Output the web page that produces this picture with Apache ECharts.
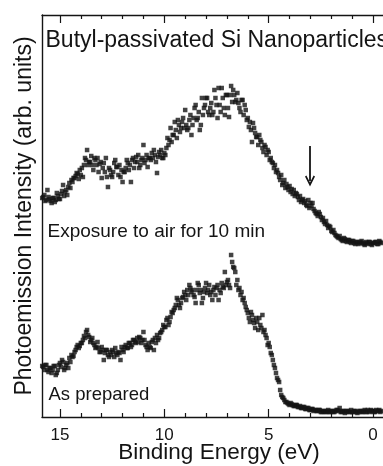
<!DOCTYPE html>
<html><head><meta charset="utf-8">
<script src="https://cdn.jsdelivr.net/npm/echarts@6/dist/echarts.min.js"></script>
<style>html,body{margin:0;padding:0;background:#fff}#c{width:383px;height:466px}</style>
</head><body><div id="c"></div>
<script>
// Binding energy (eV) of each sample point, sweep A
const energyA = [15.8,15.7,15.6,15.5,15.4,15.3,15.2,15.1,15.0,14.9,14.8,14.7,14.6,14.5,14.4,14.3,14.2,14.1,14.0,13.9,
13.8,13.7,13.6,13.5,13.4,13.3,13.2,13.1,13.0,12.9,12.8,12.7,12.6,12.5,12.4,12.3,12.2,12.1,12.0,11.9,
11.8,11.7,11.6,11.5,11.4,11.3,11.2,11.1,11.0,10.9,10.8,10.7,10.6,10.5,10.4,10.3,10.2,10.1,10.0,9.9,
9.8,9.7,9.6,9.5,9.4,9.3,9.2,9.1,9.0,8.9,8.8,8.7,8.6,8.5,8.4,8.3,8.2,8.1,8.0,7.9,
7.8,7.7,7.6,7.5,7.4,7.3,7.2,7.1,7.0,6.9,6.8,6.7,6.6,6.5,6.4,6.3,6.2,6.1,6.0,5.9,
5.8,5.7,5.6,5.5,5.4,5.3,5.2,5.1,5.0,4.9,4.8,4.7,4.6,4.5,4.4,4.3,4.2,4.1,4.0,3.9,
3.8,3.7,3.6,3.5,3.4,3.3,3.2,3.1,3.0,2.9,2.8,2.7,2.6,2.5,2.4,2.3,2.2,2.1,2.0,1.9,
1.8,1.7,1.6,1.5,1.4,1.3,1.2,1.1,1.0,0.9,0.8,0.7,0.6,0.5,0.4,0.3,0.2,0.1,0.0,-0.1,
-0.2,-0.3,-0.4];
// Binding energy (eV), sweep B
const energyB = [15.85,15.75,15.65,15.55,15.45,15.35,15.25,15.15,15.05,14.95,14.85,14.75,14.65,14.55,14.45,14.35,14.25,14.15,14.05,13.95,
13.85,13.75,13.65,13.55,13.45,13.35,13.25,13.15,13.05,12.95,12.85,12.75,12.65,12.55,12.45,12.35,12.25,12.15,12.05,11.95,
11.85,11.75,11.65,11.55,11.45,11.35,11.25,11.15,11.05,10.95,10.85,10.75,10.65,10.55,10.45,10.35,10.25,10.15,10.05,9.95,
9.85,9.75,9.65,9.55,9.45,9.35,9.25,9.15,9.05,8.95,8.85,8.75,8.65,8.55,8.45,8.35,8.25,8.15,8.05,7.95,
7.85,7.75,7.65,7.55,7.45,7.35,7.25,7.15,7.05,6.95,6.85,6.75,6.65,6.55,6.45,6.35,6.25,6.15,6.05,5.95,
5.85,5.75,5.65,5.55,5.45,5.35,5.25,5.15,5.05,4.95,4.85,4.75,4.65,4.55,4.45,4.35,4.25,4.15,4.05,3.95,
3.85,3.75,3.65,3.55,3.45,3.35,3.25,3.15,3.05,2.95,2.85,2.75,2.65,2.55,2.45,2.35,2.25,2.15,2.05,1.95,
1.85,1.75,1.65,1.55,1.45,1.35,1.25,1.15,1.05,0.95,0.85,0.75,0.65,0.55,0.45,0.35,0.25,0.15,0.05,-0.05,
-0.15,-0.25,-0.35];
// Intensity (arb. units), exposure to air for 10 min
const exposedA = [220,216,227,218,214,219,217,221,218,226,
221,227,230,229,235,239,244,238,242,240,
259,267,255,261,247,257,259,253,239,254,
259,230,247,240,254,250,242,240,235,245,
257,247,235,259,255,255,249,257,272,257,
250,259,264,267,255,260,262,259,264,269,
272,289,282,295,279,292,289,299,307,287,
297,282,299,312,299,287,319,309,319,305,
309,302,327,312,329,305,319,302,322,300,
331,327,315,324,309,317,302,307,299,295,
275,289,280,272,277,269,272,262,265,259,
254,252,247,240,242,234,229,230,231,228,
227,224,220,221,217,214,212,217,214,214,
206,203,205,200,199,193,192,191,186,187,
182,180,181,177,179,176,177,175,176,174,
175,173,175,174,172,174,175,173,174,175,
173,176,174];
const exposedB = [219,222,217,220,216,219,215,224,218,223,
232,225,222,234,237,239,241,243,247,249,
252,257,252,255,252,259,252,245,255,249,
245,240,249,242,245,257,250,252,247,245,
249,254,252,257,249,260,262,252,259,254,
262,259,257,259,262,244,265,267,259,262,
279,277,275,282,287,297,285,295,289,292,
289,302,292,309,297,305,292,302,312,319,
302,314,305,319,299,312,329,309,322,309,
322,315,322,317,314,305,317,312,297,290,
287,294,284,280,282,275,265,270,267,257,
255,249,245,244,237,232,237,233,227,225,
223,221,223,217,215,218,216,211,209,211,
208,204,201,203,197,195,196,189,190,185,
184,181,179,178,176,178,175,177,174,176,
173,175,174,176,173,175,173,175,172,174,
175,173,175];
// Intensity (arb. units), as prepared
const preparedA = [50,52,47,49,44,51,42,47,54,57,
47,52,49,55,60,65,70,69,74,77,
79,87,80,77,74,69,75,65,70,57,
67,62,65,67,60,64,65,57,67,70,
69,74,70,77,75,79,80,74,85,72,
67,70,75,67,74,77,84,87,90,97,
92,100,104,109,119,112,114,120,122,127,
132,125,122,114,134,124,114,125,134,127,
122,117,130,129,117,124,130,145,135,132,
162,150,145,137,129,125,119,110,104,95,
102,94,99,87,92,102,87,79,74,64,
57,49,39,35,22,19,15,14,12,13,
11,12,10,11,9,10,8,9,7,8,
7,6,7,5,6,5,6,5,6,5,
6,7,9,5,6,5,6,5,5,6,
5,5,6,5,7,5,6,7,6,5,
6,7,6];
const preparedB = [51,47,52,45,49,47,51,44,52,50,
55,49,54,59,62,61,67,72,71,74,
81,85,82,75,79,72,70,69,65,67,
64,67,60,62,65,69,62,64,70,65,
72,69,74,72,77,74,75,79,77,77,
70,74,69,77,79,82,79,85,92,90,
99,95,105,107,112,117,109,119,125,117,
122,129,127,120,127,132,127,119,129,124,
132,125,127,122,132,127,134,129,132,137,
129,155,149,132,127,122,117,114,107,99,
105,97,89,95,99,89,85,82,72,70,
62,52,44,37,27,20,17,15,13,14,
12,11,12,10,9,10,8,9,7,8,
6,7,6,7,5,6,5,7,5,6,
5,7,6,5,6,4,6,5,7,5,
6,4,6,5,6,5,7,5,6,5,
7,6,5];
const majorTicks = [0, 5, 10, 15];
const minorTicks = [-1, 1, 2, 3, 4, 6, 7, 8, 9, 11, 12, 13, 14];
const arrowEnergy = 3.02;
const arrowFrom = 271, arrowTo = 236;

const FONT = '"Liberation Sans", Arial, Helvetica, sans-serif';
const ink = '#141414';
const chart = echarts.init(document.getElementById('c'), null, {renderer: 'canvas'});
const lineStyle = {color: ink, width: 1.4};
const xBase = {type: 'value', min: -1.1, max: 15.86, inverse: true, gridIndex: 0, splitLine: {show: false}};
const pairs = (xs, ys) => xs.map((e, i) => [e, ys[i]]);
const SYM = 4.5;
const option = {
  animation: false,
  backgroundColor: '#fff',
  grid: {left: 42, top: 15, bottom: 49, right: -13, containLabel: false, outerBoundsMode: 'none'},
  xAxis: [
    Object.assign({}, xBase, {
      position: 'bottom',
      name: 'Binding Energy (eV)', nameLocation: 'middle', nameGap: 24, nameMoveOverlap: false,
      nameTextStyle: {fontFamily: FONT, fontSize: 22.5, color: ink},
      axisLine: {show: true, onZero: false, lineStyle: lineStyle},
      axisTick: {show: true, inside: true, length: 8, customValues: majorTicks, lineStyle: {color: ink, width: 1.2}},
      axisLabel: {show: true, customValues: majorTicks, margin: 10, fontFamily: FONT, fontSize: 17, color: ink}
    }),
    Object.assign({}, xBase, {
      position: 'bottom',
      axisLine: {show: false, onZero: false},
      axisTick: {show: true, inside: true, length: 4, customValues: minorTicks, lineStyle: {color: ink, width: 1.2}},
      axisLabel: {show: false}
    }),
    Object.assign({}, xBase, {
      position: 'top',
      axisLine: {show: true, onZero: false, lineStyle: lineStyle},
      axisTick: {show: true, inside: true, length: 8, customValues: majorTicks, lineStyle: {color: ink, width: 1.2}},
      axisLabel: {show: false}
    }),
    Object.assign({}, xBase, {
      position: 'top',
      axisLine: {show: false, onZero: false},
      axisTick: {show: true, inside: true, length: 4, customValues: minorTicks, lineStyle: {color: ink, width: 1.2}},
      axisLabel: {show: false}
    })
  ],
  yAxis: {
    type: 'value', min: 0, max: 402,
    axisLine: {show: true, onZero: false, lineStyle: lineStyle},
    axisTick: {show: false}, axisLabel: {show: false}, splitLine: {show: false},
    name: 'Photoemission Intensity (arb. units)', nameLocation: 'middle', nameGap: 6, nameMoveOverlap: false,
    nameTextStyle: {fontFamily: FONT, fontSize: 23, color: ink}
  },
  graphic: [
    {type: 'text', left: 45.5, top: 28.8, silent: true,
     style: {text: 'Butyl-passivated Si Nanoparticles', font: '23px ' + FONT, fill: ink}},
    {type: 'text', left: 47.5, top: 222.2, silent: true,
     style: {text: 'Exposure to air for 10 min', font: '19px ' + FONT, fill: ink}},
    {type: 'text', left: 48.5, top: 385, silent: true,
     style: {text: 'As prepared', font: '18.5px ' + FONT, fill: ink}}
  ],
  series: [
    {
      name: 'exposedA', type: 'scatter', xAxisIndex: 0, yAxisIndex: 0,
      data: pairs(energyA, exposedA),
      symbol: 'rect', symbolSize: SYM, itemStyle: {color: ink},
      markLine: {
        silent: true,
        symbol: ['none', 'path://M5,0 L10,9 L8.6,10 L5,3.6 L1.4,10 L0,9 Z'],
        symbolSize: [10, 11],
        label: {show: false},
        lineStyle: {color: ink, width: 1.8, type: 'solid'},
        data: [[{coord: [arrowEnergy, arrowFrom]}, {coord: [arrowEnergy, arrowTo]}]]
      }
    },
    {name: 'exposedB', type: 'scatter', data: pairs(energyB, exposedB), symbol: 'rect', symbolSize: SYM, itemStyle: {color: ink}},
    {name: 'preparedA', type: 'scatter', data: pairs(energyA, preparedA), symbol: 'rect', symbolSize: SYM, itemStyle: {color: ink}},
    {name: 'preparedB', type: 'scatter', data: pairs(energyB, preparedB), symbol: 'rect', symbolSize: SYM, itemStyle: {color: ink}}
  ]
};
chart.setOption(option);
</script>
</body></html>
